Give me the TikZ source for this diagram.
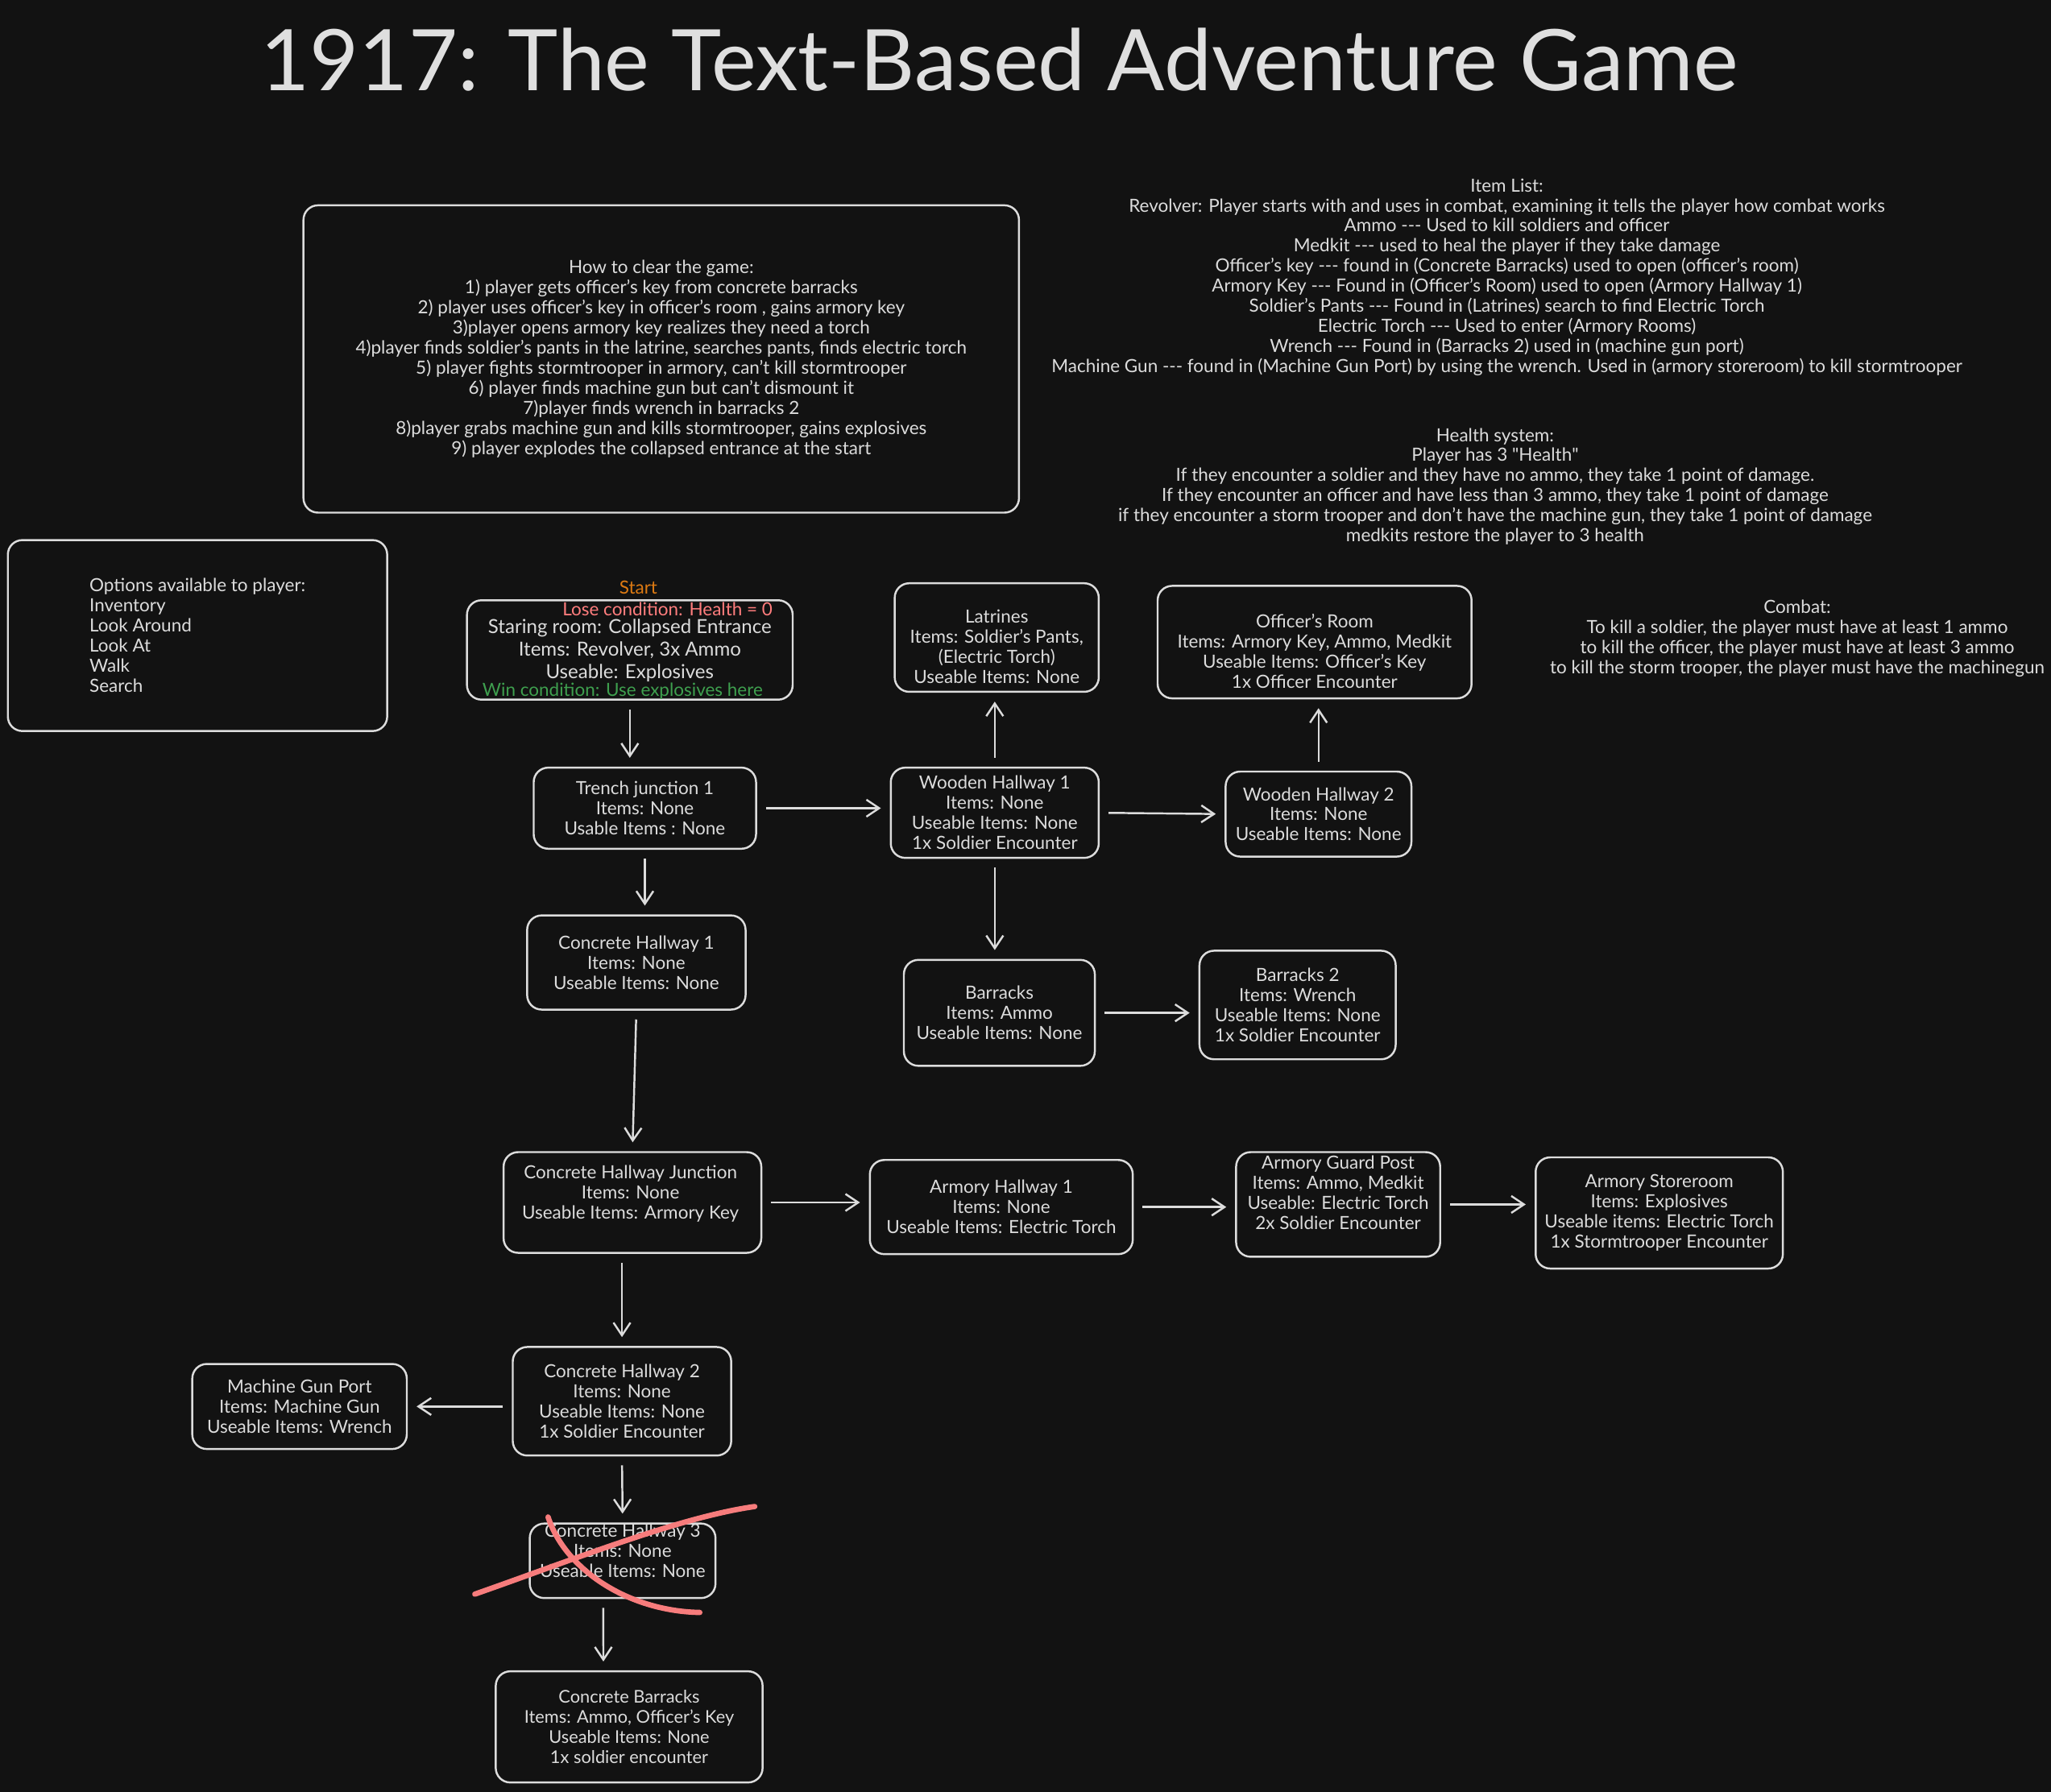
\documentclass[tikz,border=0pt]{standalone}
\usepackage{fontspec}
\setmainfont{Lato}
\usetikzlibrary{arrows.meta,positioning}
\definecolor{bg}{HTML}{121212}
\definecolor{ink}{HTML}{DCDCDC}
\definecolor{startorange}{HTML}{DD7A12}
\definecolor{losered}{HTML}{FF7D7D}
\definecolor{wingreen}{HTML}{3E9F4E}
\definecolor{crossred}{HTML}{F77C7C}
\newcommand{\tridash}{-{}-{}-}

\begin{document}
\begin{tikzpicture}[x=0.16237mm,y=-0.16237mm,
	txt/.style={text=ink,align=center,font=\fontsize{6.4}{7.1}\selectfont,inner sep=0pt},
	room/.style 2 args={txt,draw=ink,line width=0.7pt,rounded corners=1.8mm,
		minimum width=#1*0.16237mm,minimum height=#2*0.16237mm},
	link/.style={draw=ink,line width=0.7pt,-{Straight Barb[length=4.5pt,width=6pt]},
		shorten >=1.1mm,shorten <=1.1mm},
	cross/.style={draw=crossred,line width=1.9pt,line cap=round}]
	\fill[bg] (0,0) rectangle (1568,1370);
	\useasboundingbox (0,0) rectangle (1568,1370);
	% title
	\node[text=ink!92,font=\fontsize{30}{34}\selectfont,anchor=base] (title) at (764,69) {1917: The Text-Based Adventure Game};
	% notes
	\node[room={547}{235}] (howto) at (505.5,274.5) {How to clear the game:\\
		1) player gets officer's key from concrete barracks\\
		2) player uses officer's key in officer's room , gains armory key\\
		3)player opens armory key realizes they need a torch\\
		4)player finds soldier's pants in the latrine, searches pants, finds electric torch\\
		5) player fights stormtrooper in armory, can't kill stormtrooper\\
		6) player finds machine gun but can't dismount it\\
		7)player finds wrench in barracks 2\\
		8)player grabs machine gun and kills stormtrooper, gains explosives\\
		9) player explodes the collapsed entrance at the start};
	\node[room={290}{146},align=left] (options) at (151,486) {Options available to player:\\
		Inventory\\Look Around\\Look At\\Walk\\Search};
	\node[txt] (items) at (1152,212) {Item List:\\
		Revolver: Player starts with and uses in combat, examining it tells the player how combat works\\
		Ammo \tridash{} Used to kill soldiers and officer\\
		Medkit \tridash{} used to heal the player if they take damage\\
		Officer's key \tridash{} found in (Concrete Barracks) used to open (officer's room)\\
		Armory Key \tridash{} Found in (Officer's Room) used to open (Armory Hallway 1)\\
		Soldier's Pants \tridash{} Found in (Latrines) search to find Electric Torch\\
		Electric Torch \tridash{} Used to enter (Armory Rooms)\\
		Wrench \tridash{} Found in (Barracks 2) used in (machine gun port)\\
		Machine Gun \tridash{} found in (Machine Gun Port) by using the wrench. Used in (armory storeroom) to kill stormtrooper};
	\node[txt] (health) at (1143,372) {Health system:\\
		Player has 3 \textquotedbl Health\textquotedbl\\
		If they encounter a soldier and they have no ammo, they take 1 point of damage.\\
		If they encounter an officer and have less than 3 ammo, they take 1 point of damage\\
		if they encounter a storm trooper and don't have the machine gun, they take 1 point of damage\\
		medkits restore the player to 3 health};
	\node[txt] (combat) at (1374,488) {Combat:\\
		To kill a soldier, the player must have at least 1 ammo\\
		to kill the officer, the player must have at least 3 ammo\\
		to kill the storm trooper, the player must have the machinegun};
	% start room
	\node[txt,text=startorange] (startlbl) at (488,449) {Start};
	\node[room={249}{76}] (start) at (481.5,497) {};
	\node[txt,font=\fontsize{6.85}{7.9}\selectfont] (starttxt) at (481.5,497.5) {Staring room: Collapsed Entrance\\
		Items: Revolver, 3x Ammo\\Useable: Explosives};
	\node[txt,text=losered,anchor=east] (lose) at (591,466) {Lose condition: Health = 0};
	\node[txt,text=wingreen] (win) at (476,528.5) {Win condition: Use explosives here};
	% rooms
	\node[room={170}{62}] (tj) at (493,618) {Trench junction 1\\Items: None\\Usable Items : None};
	\node[room={159}{69}] (wh1) at (760.5,621.5) {Wooden Hallway 1\\Items: None\\Useable Items: None\\1x Soldier Encounter};
	\node[room={142}{65}] (wh2) at (1008,622.5) {Wooden Hallway 2\\Items: None\\Useable Items: None};
	\node[room={156}{83}] (lat) at (762,487.5) {};
	\node[txt] (lattxt) at (762,494.5) {Latrines\\Items: Soldier's Pants,\\(Electric Torch)\\Useable Items: None};
	\node[room={240}{86}] (off) at (1005,491) {};
	\node[txt] (offtxt) at (1005,498) {Officer's Room\\Items: Armory Key, Ammo, Medkit\\Useable Items: Officer's Key\\1x Officer Encounter};
	\node[room={167}{72}] (ch1) at (486.5,736) {Concrete Hallway 1\\Items: None\\Useable Items: None};
	\node[room={146}{81}] (bar) at (764,774.5) {Barracks\\Items: Ammo\\Useable Items: None};
	\node[room={150}{83}] (bar2) at (992,768.5) {Barracks 2\\Items: Wrench\\Useable Items: None\\1x Soldier Encounter};
	\node[room={197}{77}] (chj) at (483.5,919.5) {};
	\node[txt] (chjtxt) at (482,913) {Concrete Hallway Junction\\Items: None\\Useable Items: Armory Key};
	\node[room={201}{72}] (ah1) at (765.5,923) {Armory Hallway 1\\Items: None\\Useable Items: Electric Torch};
	\node[room={156}{80}] (agp) at (1023,921) {};
	\node[txt] (agptxt) at (1023,912) {Armory Guard Post\\Items: Ammo, Medkit\\Useable: Electric Torch\\2x Soldier Encounter};
	\node[room={189}{85}] (ast) at (1268.5,927.5) {Armory Storeroom\\Items: Explosives\\Useable items: Electric Torch\\1x Stormtrooper Encounter};
	\node[room={167}{83}] (ch2) at (475.5,1071.5) {Concrete Hallway 2\\Items: None\\Useable Items: None\\1x Soldier Encounter};
	\node[room={164}{65}] (mgp) at (229,1075.5) {Machine Gun Port\\Items: Machine Gun\\Useable Items: Wrench};
	\node[room={142}{57}] (ch3) at (476,1193.5) {};
	\node[txt] (ch3txt) at (476,1186) {Concrete Hallway 3\\Items: None\\Useable Items: None};
	\node[room={204}{85},font=\fontsize{6.2}{7.1}\selectfont] (cb) at (481,1320.5) {Concrete Barracks\\Items: Ammo, Officer's Key\\Useable Items: None\\1x soldier encounter};
	% connections
	\draw[link] (start.south) -- (start.south |- tj.north);
	\draw[link] (tj.south) -- (tj.south |- ch1.north);
	\draw[link] (tj.east) -- (tj.east -| wh1.west);
	\draw[link] (wh1.north) -- (wh1.north |- lat.south);
	\draw[link] (wh1.east) -- (wh2.west);
	\draw[link] (wh2.north) -- (wh2.north |- off.south);
	\draw[link] (wh1.south) -- (wh1.south |- bar.north);
	\draw[link] (bar.east) -- (bar.east -| bar2.west);
	\draw[link] (ch1.south) -- (chj.north);
	\draw[link] (chj.east) -- (chj.east -| ah1.west);
	\draw[link] (ah1.east) -- (ah1.east -| agp.west);
	\draw[link] (agp.east) -- (agp.east -| ast.west);
	\draw[link] (ch2.north |- chj.south) -- (ch2.north);
	\draw[link] (mgp.east -| ch2.west) -- (mgp.east);
	\draw[link] (ch2.south) -- (ch3.north);
	\draw[link] ([xshift=-2.4mm]ch3.south) -- ([xshift=-3.2mm]cb.north);
	% crossed out room
	\draw[cross] (363,1219) .. controls (440,1192) and (520,1160) .. (577,1152);
	\draw[cross] (419,1160) .. controls (432,1200) and (480,1232) .. (535,1233);
\end{tikzpicture}
\end{document}
